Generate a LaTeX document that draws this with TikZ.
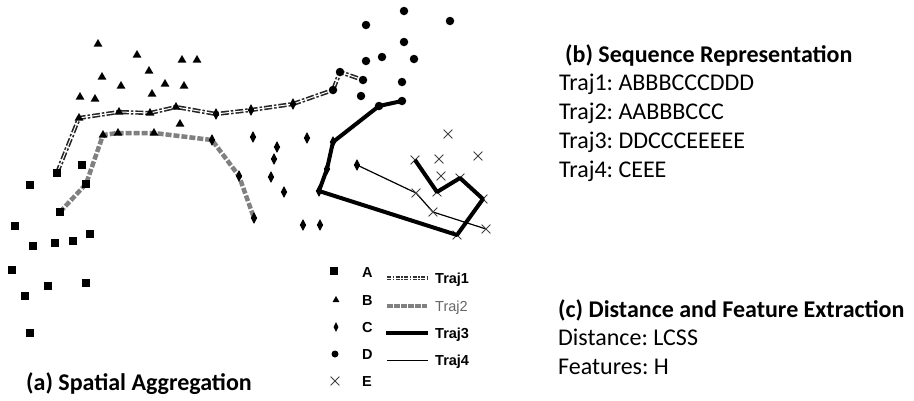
\documentclass[tikz,border=0pt]{standalone}
\usepackage{fontspec}
\setmainfont{Carlito}
\newfontfamily\legendfont{Liberation Sans}
\usetikzlibrary{shapes.geometric,shapes.misc}
\pgfdeclarelayer{background}
\pgfsetlayers{background,main}
\frenchspacing

\tikzset{
  sq/.style={rectangle,fill=black,inner sep=0pt,minimum size=8pt},
  tri/.style={regular polygon,regular polygon sides=3,fill=black,inner sep=0pt,minimum size=10pt},
  dia/.style={diamond,fill=black,inner sep=0pt,minimum width=6.5pt,minimum height=12pt},
  dot/.style={circle,fill=black,inner sep=0pt,minimum size=8.5pt},
  crs/.style={cross out,draw=black!75,line width=0.8pt,inner sep=0pt,minimum size=8pt},
  trajone/.style={draw=black!85,line width=4.2pt,dash pattern=on 8pt off 2pt on 2.5pt off 2pt,line join=round},
  trajonecore/.style={draw=white,line width=1pt},
  trajtwo/.style={draw=black!50,line width=4.5pt,dash pattern=on 6pt off 2pt,rounded corners=3pt},
  trajthree/.style={draw=black,line width=4pt,line join=round},
  trajfour/.style={draw=black,line width=1.2pt},
  legfont/.style={font=\legendfont\bfseries\fontsize{14.5pt}{16pt}\selectfont},
  legtxt/.style={font=\legendfont\fontsize{14.5pt}{16pt}\selectfont,anchor=base west,inner sep=0pt},
  head/.style={font=\bfseries\fontsize{24pt}{28pt}\selectfont,anchor=base west,inner sep=0pt},
  body/.style={font=\fontsize{24pt}{28pt}\selectfont,anchor=base west,inner sep=0pt}
}

\begin{document}
\begin{tikzpicture}[x=1pt,y=-1pt]
\useasboundingbox (0,0) rectangle (914,400);

% region A (squares)
\foreach [count=\i] \p in {(57,173),(82,165),(30,185),(86,184),(60,212),(15,226),(90,234),(33,246),(55,243),(73,241),(12,270),(48,286),(86,283),(25,296),(30,333)}
  \node[sq] (A\i) at \p {};
% region B (triangles)
\foreach [count=\i] \p in {(98,44),(137,55),(182,60),(197,60),(149,71),(102,77),(121,86),(165,84),(184,86),(152,94),(80,97),(95,99),(180,124),(79,118),(119,112),(150,113),(176,107),(103,135),(118,133),(154,133)}
  \node[tri] (B\i) at \p {};
% region C (diamonds)
\foreach [count=\i] \p in {(216,114),(251,110),(293,104),(212,140),(239,176),(254,218),(253,137),(307,138),(277,147),(274,159),(271,177),(284,192),(303,225),(320,225),(357,165),(333,142),(327,169),(319,191)}
  \node[dia] (C\i) at \p {};
% region D (circles)
\foreach [count=\i] \p in {(404,11),(450,21),(366,25),(404,42),(366,61),(382,57),(414,59),(402,82),(361,96),(333,90),(340,72),(363,80),(402,101),(379,106)}
  \node[dot] (D\i) at \p {};
% region E (crosses)
\foreach [count=\i] \p in {(448,134),(439,159),(478,156),(441,176),(415,160),(437,192),(460,178),(483,199),(457,235),(416,193),(433,212),(486,229)}
  \node[crs] (E\i) at \p {};

% trajectories, drawn beneath the markers
\begin{pgfonlayer}{background}
  \draw[trajone] (A1.center) -- (B14.center) -- (B15.center) -- (B16.center) -- (B17.center) -- (C1.center) -- (C2.center) -- (C3.center) -- (D10.center) -- (D11.center) -- (D12.center);
  \draw[trajonecore] (A1.center) -- (B14.center) -- (B15.center) -- (B16.center) -- (B17.center) -- (C1.center) -- (C2.center) -- (C3.center) -- (D10.center) -- (D11.center) -- (D12.center);
  \draw[trajtwo] (A5.center) -- (A4.center) -- (B18.center) -- (B19.center) -- (B20.center) -- (C4.center) -- (C5.center) -- (C6.center);
  \draw[trajfour] (C15.center) -- (E10.center) -- (E11.center) -- (E12.center);
\end{pgfonlayer}
\draw[trajthree] (D13.center) -- (D14.center) -- (C16.center) -- (C17.center) -- (C18.center) -- (E9.center) -- (E8.center) -- (E7.center) -- (E6.center) -- (E5.center);

% legend
\node[sq]  (kA) at (334,271) {};
\node[tri,minimum size=8pt] (kB) at (336,300) {};
\node[dia,minimum width=5pt,minimum height=10pt] (kC) at (336,327) {};
\node[dot,minimum size=7pt] (kD) at (335,354) {};
\node[crs] (kE) at (335,381) {};
\node[legtxt,legfont] (tA) at (362,277) {A};
\node[legtxt,legfont] (tB) at (362,305) {B};
\node[legtxt,legfont] (tC) at (362,332) {C};
\node[legtxt,legfont] (tD) at (362,359) {D};
\node[legtxt,legfont] (tE) at (362,386) {E};

\coordinate (l1a) at (387,278); \coordinate (l1b) at (427,278);
\coordinate (l2a) at (387,306); \coordinate (l2b) at (427,306);
\coordinate (l3a) at (386,333); \coordinate (l3b) at (428,333);
\coordinate (l4a) at (387,360); \coordinate (l4b) at (428,360);
\draw[draw=black!80,line width=3.2pt,dash pattern=on 4pt off 1.5pt on 1.5pt off 1.5pt] (l1a) -- (l1b);
\draw[trajonecore,line width=0.8pt] (l1a) -- (l1b);
\draw[draw=black!50,line width=4pt,dash pattern=on 5.5pt off 1.5pt] (l2a) -- (l2b);
\draw[trajthree] (l3a) -- (l3b);
\draw[trajfour,line width=1pt] (l4a) -- (l4b);
\node[legtxt,legfont] (g1) at (435,283) {Traj1};
\node[legtxt,text=black!60] (g2) at (435,311) {Traj2};
\node[legtxt,legfont] (g3) at (435,338) {Traj3};
\node[legtxt,legfont] (g4) at (435,365) {Traj4};

% captions and text panels
\node[head] (capa) at (26,390) {(a) Spatial Aggregation};
\node[head] (capb) at (565,62) {(b) Sequence Representation};
\node[body] (s1) at (559,90) {Traj1: ABBBCCCDDD};
\node[body] (s2) at (559,119) {Traj2: AABBBCCC};
\node[body] (s3) at (559,148) {Traj3: DDCCCEEEEE};
\node[body] (s4) at (559,177) {Traj4: CEEE};
\node[head] (capc) at (558,317) {(c) Distance and Feature Extraction};
\node[body] (f1) at (558,345) {Distance: LCSS};
\node[body] (f2) at (558,374) {Features: H};
\end{tikzpicture}
\end{document}
